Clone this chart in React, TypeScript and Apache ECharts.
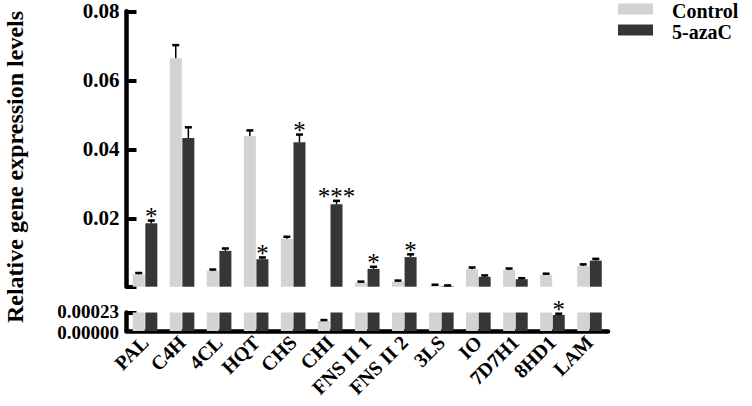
import React, { useEffect, useRef } from "react";
import * as echarts from "echarts";

const categories = ["PAL", "C4H", "4CL", "HQT", "CHS", "CHI", "FNS II 1", "FNS II 2", "3LS", "IO", "7D7H1", "8HD1", "LAM"];
const seriesNames = ["Control", "5-azaC"];
const controlValues = [0.0038, 0.0664, 0.0048, 0.0439, 0.0141, 0.000124, 0.0014, 0.0017, 0.0005, 0.0053, 0.0051, 0.0036, 0.0062];
const controlErrors = [0.0004, 0.0038, 0.0004, 0.0016, 0.0006, 0.000012, 0.0003, 0.0003, 0.0003, 0.0005, 0.0004, 0.0004, 0.0005];
const azaValues = [0.0186, 0.0433, 0.0106, 0.0082, 0.0421, 0.0241, 0.0054, 0.0088, 0.0004, 0.0031, 0.0024, 0.000199, 0.0078];
const azaErrors = [0.0008, 0.0031, 0.0007, 0.0005, 0.0022, 0.001, 0.0006, 0.0008, 0.0002, 0.0004, 0.0003, 0.000016, 0.0005];
const azaSignificance = ["*", "", "", "*", "*", "***", "*", "*", "", "", "", "*", ""];
const upperTicks = [0.02, 0.04, 0.06, 0.08];
const lowerTicks = [0, 0.00023];
const SPLIT = 0.00023;
const UPPER_MAX = 0.08;

const FONT = "'Liberation Serif', 'Times New Roman', serif";
const CONTROL_COLOR = "#d3d3d3";
const AZA_COLOR = "#363636";
const OFFSET = 6.3;

type ErrItem = { cat: number; v: number; e: number; s: number; star: string };

function buildItems(upper: boolean): ErrItem[] {
  const out: ErrItem[] = [];
  categories.forEach((_, i) => {
    const pairs: [number, number, number, string][] = [
      [controlValues[i], controlErrors[i], 0, ""],
      [azaValues[i], azaErrors[i], 1, azaSignificance[i]],
    ];
    pairs.forEach(([v, e, s, star]) => {
      if (upper ? v > SPLIT : v + e < SPLIT) out.push({ cat: i, v, e, s, star });
    });
  });
  return out;
}

function makeErrorSeries(items: ErrItem[], axisIndex: number) {
  return {
    type: "custom",
    xAxisIndex: axisIndex,
    yAxisIndex: axisIndex,
    silent: true,
    z: 5,
    data: items.map((it) => [it.cat, it.v + it.e]),
    encode: { x: 0, y: 1 },
    renderItem: (params: any, api: any) => {
      const it = items[params.dataIndex];
      const base = api.coord([it.cat, it.v]);
      const top = api.coord([it.cat, it.v + it.e]);
      const x = base[0] + (it.s === 0 ? -OFFSET : OFFSET);
      const children: any[] = [
        { type: "line", shape: { x1: x, y1: base[1], x2: x, y2: top[1] }, style: { stroke: "#000", lineWidth: 1.5 } },
        { type: "line", shape: { x1: x - 3.5, y1: top[1], x2: x + 3.5, y2: top[1] }, style: { stroke: "#000", lineWidth: 2.5 } },
      ];
      if (it.star) {
        children.push({
          type: "text",
          x,
          y: top[1] - 4,
          style: { text: it.star, font: `25px ${FONT}`, fill: "#000", textAlign: "center", textVerticalAlign: "middle" },
        });
      }
      return { type: "group", children };
    },
  };
}

export default function App() {
  const ref = useRef<HTMLDivElement>(null);
  useEffect(() => {
    if (!ref.current) return;
    const chart = echarts.init(ref.current, null, { renderer: "svg" });
    const upperItems = buildItems(true);
    const lowerItems = buildItems(false);
    const axisLine = { show: true, lineStyle: { color: "#000", width: 4.5 } };
    const labelStyle = { color: "#000", fontFamily: FONT, fontWeight: "bold", fontSize: 21 };
    const legendColors = [CONTROL_COLOR, AZA_COLOR];
    const legendGraphics: any[] = [];
    seriesNames.forEach((name, i) => {
      legendGraphics.push({ type: "rect", shape: { x: 618, y: 3.5 + i * 21, width: 35, height: 11 }, style: { fill: legendColors[i] } });
      legendGraphics.push({
        type: "text",
        x: 672,
        y: 10.5 + i * 21,
        style: { text: name, font: `bold 20px ${FONT}`, lineHeight: 17, fill: "#000", textAlign: "left", textVerticalAlign: "middle" },
      });
    });
    const titleGraphic = {
      type: "text",
      x: 15,
      y: 167,
      rotation: Math.PI / 2,
      style: {
        text: "Relative gene expression levels",
        font: `bold 24px ${FONT}`,
        fill: "#000",
        textAlign: "center",
        textVerticalAlign: "middle",
      },
    };
    chart.setOption({
      animation: false,
      backgroundColor: "#fff",
      graphic: [...legendGraphics, titleGraphic],
      grid: [
        { left: 126.5, top: 11.3, width: 481.5, height: 275.4 },
        { left: 126.5, top: 312.5, width: 481.5, height: 18.5 },
      ],
      xAxis: [
        {
          type: "category",
          gridIndex: 0,
          data: categories,
          axisLine: { show: false },
          axisTick: { show: false },
          axisLabel: { show: false },
        },
        {
          type: "category",
          gridIndex: 1,
          data: categories,
          axisLine,
          axisTick: { show: false },
          axisLabel: { ...labelStyle, fontSize: 20, rotate: 45, margin: 8, interval: 0 },
        },
      ],
      yAxis: [
        {
          type: "value",
          gridIndex: 0,
          min: SPLIT,
          max: UPPER_MAX,
          axisLine,
          splitLine: { show: false },
          axisTick: { show: true, inside: true, length: 10, lineStyle: { color: "#000", width: 4 }, customValues: [SPLIT, ...upperTicks] },
          axisLabel: { ...labelStyle, margin: 7, customValues: upperTicks, formatter: (v: number) => v.toFixed(2) },
        },
        {
          type: "value",
          gridIndex: 1,
          min: 0,
          max: SPLIT,
          axisLine,
          splitLine: { show: false },
          axisTick: { show: true, inside: true, length: 10, lineStyle: { color: "#000", width: 4 }, customValues: [SPLIT] },
          axisLabel: { show: false },
        },
      ],
      series: [
        {
          name: seriesNames[0],
          type: "bar",
          xAxisIndex: 0,
          yAxisIndex: 0,
          barWidth: 12,
          barGap: "5%",
          itemStyle: { color: CONTROL_COLOR },
          data: controlValues.map((v) => (v > SPLIT ? v : null)),
        },
        {
          name: seriesNames[1],
          type: "bar",
          xAxisIndex: 0,
          yAxisIndex: 0,
          barWidth: 12,
          barGap: "5%",
          itemStyle: { color: AZA_COLOR },
          data: azaValues.map((v) => (v > SPLIT ? v : null)),
        },
        {
          name: seriesNames[0],
          type: "bar",
          xAxisIndex: 1,
          yAxisIndex: 1,
          barWidth: 12,
          barGap: "5%",
          itemStyle: { color: CONTROL_COLOR },
          data: controlValues.map((v) => Math.min(v, SPLIT)),
        },
        {
          name: seriesNames[1],
          type: "bar",
          xAxisIndex: 1,
          yAxisIndex: 1,
          barWidth: 12,
          barGap: "5%",
          itemStyle: { color: AZA_COLOR },
          data: azaValues.map((v) => Math.min(v, SPLIT)),
        },
        makeErrorSeries(upperItems, 0),
        makeErrorSeries(lowerItems, 1),
      ],
    });
    // lower segment tick labels, positioned through the lower y axis scale
    const lowerLabels = lowerTicks.map((v, i) => {
      const y = (chart.convertToPixel({ yAxisIndex: 1 }, v) as number) + (i === 0 ? 1 : -1);
      return {
        type: "text",
        x: 119,
        y,
        style: {
          text: v.toFixed(5),
          font: `bold 19px ${FONT}`,
          lineHeight: 15,
          fill: "#000",
          textAlign: "right",
          textVerticalAlign: "middle",
        },
      };
    });
    chart.setOption({ graphic: [...legendGraphics, titleGraphic, ...lowerLabels] });
    return () => chart.dispose();
  }, []);
  return <div ref={ref} style={{ width: 752, height: 406, position: "absolute", left: 0, top: 0 }} />;
}
